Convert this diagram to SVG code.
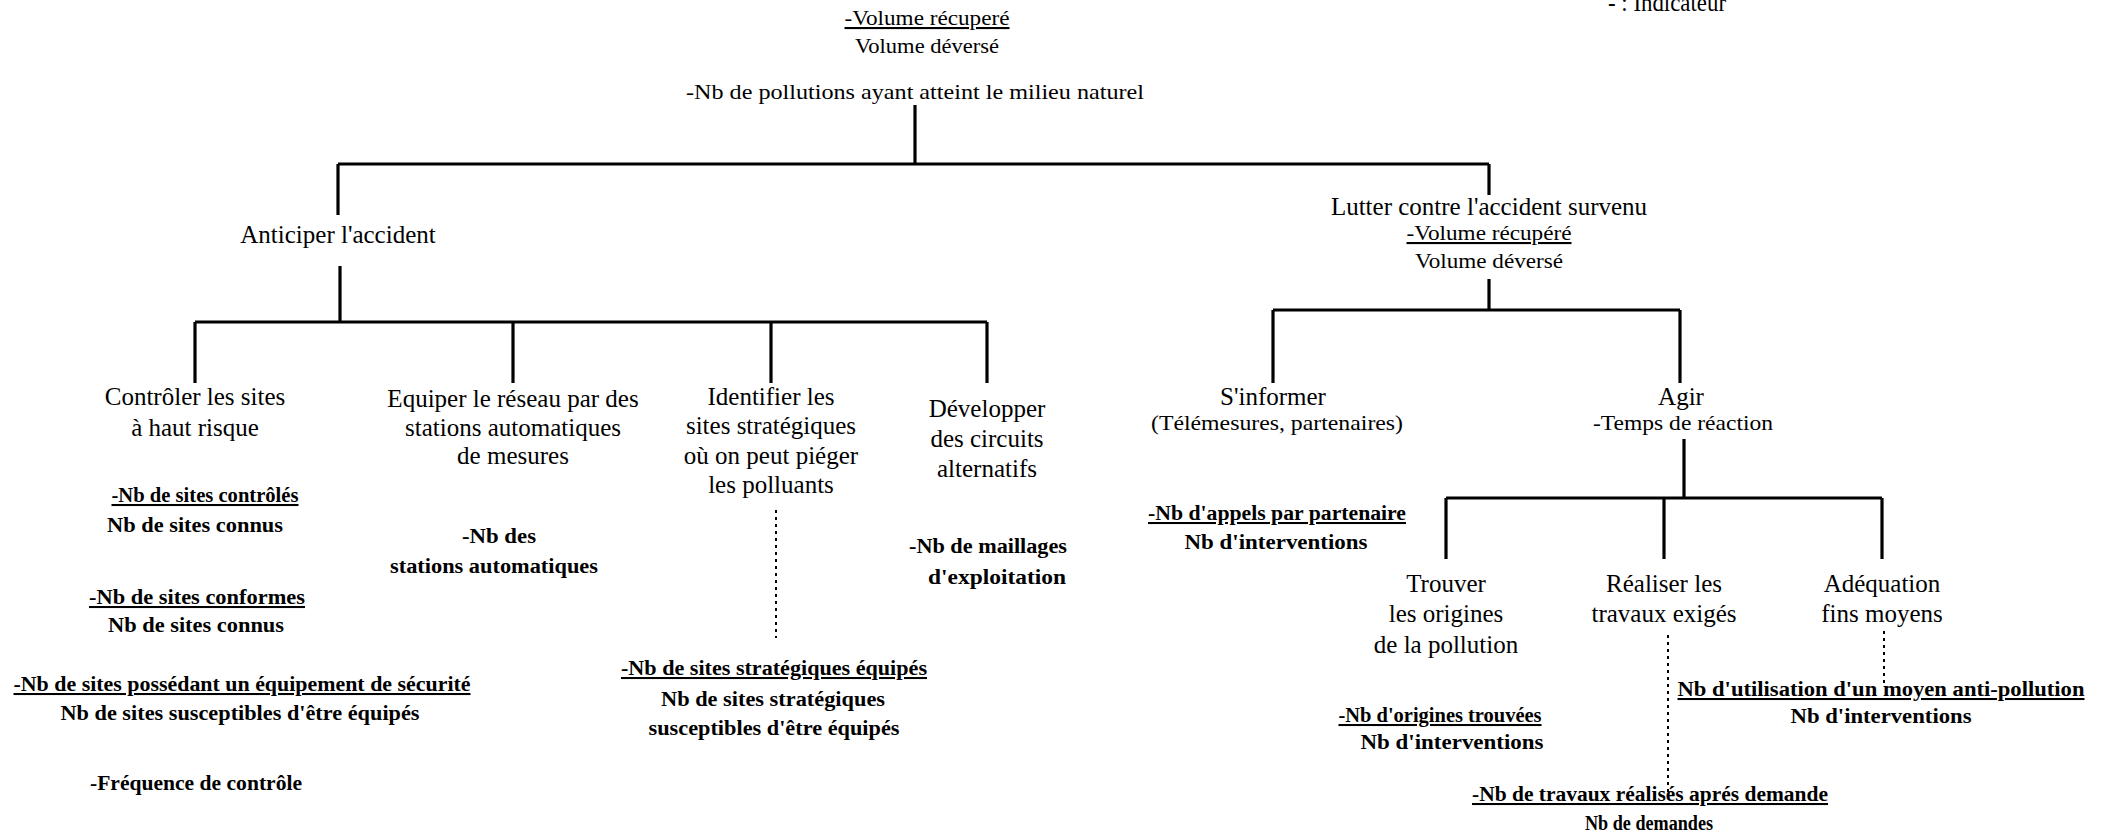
<svg xmlns="http://www.w3.org/2000/svg" width="2106" height="835" viewBox="0 0 2106 835">
<style>
text{font-family:"Liberation Serif","Times New Roman",serif;fill:#000;text-anchor:middle}
.h{font-size:25px}
.r{font-size:21px}
.i{font-size:20.5px;font-weight:bold}
.u{text-decoration:underline}
.c line{stroke:#000;stroke-width:3.2;fill:none}
.c .d{stroke-width:2;stroke-dasharray:3 4}
</style>
<rect width="2106" height="835" fill="#fff"/>
<g class="c" id="connectors">
<line x1="915" y1="105" x2="915" y2="164"/>
<line x1="338" y1="164" x2="1489" y2="164"/>
<line x1="338" y1="164" x2="338" y2="215"/>
<line x1="1489" y1="164" x2="1489" y2="195"/>
<line x1="340" y1="266" x2="340" y2="322"/>
<line x1="195" y1="322" x2="987" y2="322"/>
<line x1="195" y1="322" x2="195" y2="383"/>
<line x1="513" y1="322" x2="513" y2="383"/>
<line x1="771" y1="322" x2="771" y2="383"/>
<line x1="987" y1="322" x2="987" y2="383"/>
<line x1="1489" y1="279" x2="1489" y2="310"/>
<line x1="1273" y1="310" x2="1680" y2="310"/>
<line x1="1273" y1="310" x2="1273" y2="383"/>
<line x1="1680" y1="310" x2="1680" y2="383"/>
<line x1="1684" y1="439" x2="1684" y2="498"/>
<line x1="1446" y1="498" x2="1882" y2="498"/>
<line x1="1446" y1="498" x2="1446" y2="559"/>
<line x1="1664" y1="498" x2="1664" y2="559"/>
<line x1="1882" y1="498" x2="1882" y2="559"/>
<line class="d" x1="776" y1="510" x2="776" y2="638"/>
<line class="d" x1="1668" y1="635" x2="1668" y2="792"/>
<line class="d" x1="1884" y1="631" x2="1884" y2="685"/>
</g>
<g id="legend">
<text x="1608" y="11" style="font-size:25px;text-anchor:start" textLength="118" lengthAdjust="spacingAndGlyphs">- : Indicateur</text>
</g>
<g id="root">
<text class="r u" x="927" y="25" textLength="165" lengthAdjust="spacingAndGlyphs">-Volume récuperé</text>
<text class="r" x="927" y="53" textLength="144" lengthAdjust="spacingAndGlyphs">Volume déversé</text>
<text class="r" x="915" y="99" textLength="458" lengthAdjust="spacingAndGlyphs">-Nb de pollutions ayant atteint le milieu naturel</text>
</g>
<g id="anticiper">
<text class="h" x="338" y="243">Anticiper l'accident</text>
</g>
<g id="lutter">
<text class="h" x="1489" y="215">Lutter contre l'accident survenu</text>
<text class="r u" x="1489" y="240" textLength="165" lengthAdjust="spacingAndGlyphs">-Volume récupéré</text>
<text class="r" x="1489" y="268" textLength="148" lengthAdjust="spacingAndGlyphs">Volume déversé</text>
</g>
<g id="controler">
<text class="h" x="195" y="405">Contrôler les sites</text>
<text class="h" x="195" y="436">à haut risque</text>
<text class="i u" x="205" y="502" textLength="187" lengthAdjust="spacingAndGlyphs">-Nb de sites contrôlés</text>
<text class="i" x="195" y="532" textLength="176" lengthAdjust="spacingAndGlyphs">Nb de sites connus</text>
<text class="i u" x="197" y="604" textLength="216" lengthAdjust="spacingAndGlyphs">-Nb de sites conformes</text>
<text class="i" x="196" y="632" textLength="176" lengthAdjust="spacingAndGlyphs">Nb de sites connus</text>
<text class="i u" x="242" y="691" textLength="457" lengthAdjust="spacingAndGlyphs">-Nb de sites possédant un équipement de sécurité</text>
<text class="i" x="240" y="720" textLength="359" lengthAdjust="spacingAndGlyphs">Nb de sites susceptibles d'être équipés</text>
<text class="i" x="196" y="790" textLength="212" lengthAdjust="spacingAndGlyphs">-Fréquence de contrôle</text>
</g>
<g id="equiper">
<text class="h" x="513" y="407">Equiper le réseau par des</text>
<text class="h" x="513" y="436">stations automatiques</text>
<text class="h" x="513" y="464">de mesures</text>
<text class="i" x="499" y="543" textLength="74" lengthAdjust="spacingAndGlyphs">-Nb des</text>
<text class="i" x="494" y="573" textLength="208" lengthAdjust="spacingAndGlyphs">stations automatiques</text>
</g>
<g id="identifier">
<text class="h" x="771" y="405">Identifier les</text>
<text class="h" x="771" y="434">sites stratégiques</text>
<text class="h" x="771" y="464">où on peut piéger</text>
<text class="h" x="771" y="493">les polluants</text>
<text class="i u" x="774" y="675" textLength="306" lengthAdjust="spacingAndGlyphs">-Nb de sites stratégiques équipés</text>
<text class="i" x="773" y="706" textLength="224" lengthAdjust="spacingAndGlyphs">Nb de sites stratégiques</text>
<text class="i" x="774" y="735" textLength="251" lengthAdjust="spacingAndGlyphs">susceptibles d'être équipés</text>
</g>
<g id="developper">
<text class="h" x="987" y="417">Développer</text>
<text class="h" x="987" y="447">des circuits</text>
<text class="h" x="987" y="477">alternatifs</text>
<text class="i" x="988" y="553" textLength="158" lengthAdjust="spacingAndGlyphs">-Nb de maillages</text>
<text class="i" x="997" y="584" textLength="138" lengthAdjust="spacingAndGlyphs">d'exploitation</text>
</g>
<g id="informer">
<text class="h" x="1273" y="405">S'informer</text>
<text class="r" x="1277" y="430" textLength="252" lengthAdjust="spacingAndGlyphs">(Télémesures, partenaires)</text>
<text class="i u" x="1277" y="520" textLength="258" lengthAdjust="spacingAndGlyphs">-Nb d'appels par partenaire</text>
<text class="i" x="1276" y="549" textLength="183" lengthAdjust="spacingAndGlyphs">Nb d'interventions</text>
</g>
<g id="agir">
<text class="h" x="1681" y="405">Agir</text>
<text class="r" x="1683" y="430" textLength="180" lengthAdjust="spacingAndGlyphs">-Temps de réaction</text>
</g>
<g id="trouver">
<text class="h" x="1446" y="592">Trouver</text>
<text class="h" x="1446" y="622">les origines</text>
<text class="h" x="1446" y="653">de la pollution</text>
<text class="i u" x="1440" y="722" textLength="203" lengthAdjust="spacingAndGlyphs">-Nb d'origines trouvées</text>
<text class="i" x="1452" y="749" textLength="183" lengthAdjust="spacingAndGlyphs">Nb d'interventions</text>
</g>
<g id="realiser">
<text class="h" x="1664" y="592">Réaliser les</text>
<text class="h" x="1664" y="622">travaux exigés</text>
<text class="i u" x="1650" y="801" textLength="356" lengthAdjust="spacingAndGlyphs">-Nb de travaux réalisés aprés demande</text>
<text class="i" x="1649" y="830" textLength="128" lengthAdjust="spacingAndGlyphs">Nb de demandes</text>
</g>
<g id="adequation">
<text class="h" x="1882" y="592">Adéquation</text>
<text class="h" x="1882" y="622">fins moyens</text>
<text class="i u" x="1881" y="696" textLength="407" lengthAdjust="spacingAndGlyphs">Nb d'utilisation d'un moyen anti-pollution</text>
<text class="i" x="1881" y="723" textLength="181" lengthAdjust="spacingAndGlyphs">Nb d'interventions</text>
</g>
</svg>
